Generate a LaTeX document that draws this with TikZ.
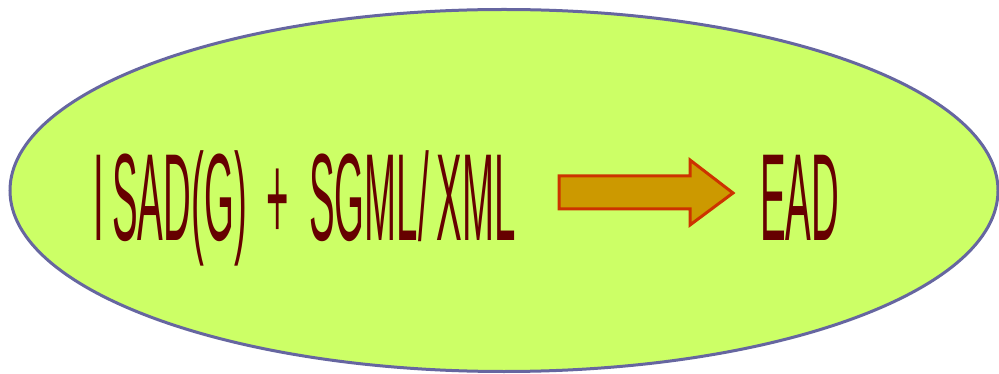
\documentclass[tikz,border=0pt]{standalone}
\usepackage{fontspec}
\setmainfont{Liberation Sans}
\usepackage{graphicx}
\definecolor{blobfill}{HTML}{CCFF66}
\definecolor{blobline}{HTML}{6666A0}
\definecolor{wordred}{HTML}{660000}
\definecolor{arrowfill}{HTML}{CC9900}
\definecolor{arrowline}{HTML}{CC3300}
% tall, horizontally squeezed lettering
\newcommand{\squeezed}[1]{\scalebox{0.31}[1]{\fontsize{124}{130}\selectfont #1}}
\begin{document}
\begin{tikzpicture}[x=1pt,y=-1pt,
  blob/.style={fill=blobfill, draw=blobline, line width=3pt},
  blockarrow/.style={fill=arrowfill, draw=arrowline, line width=3pt, line join=miter},
  word/.style={inner sep=0pt, anchor=base west, text=wordred}]
\useasboundingbox (0,0) rectangle (999,374);
% background ellipse
\draw[blob] (504,190.5) ellipse [x radius=494, y radius=181];
% source standards
\node[word] (src) at (93,241)
  {\squeezed{I\kern0.22em SAD(G)\hspace{0.52em}+\hspace{0.52em}SGML/\kern0.2em XML}};
% result
\node[word] (dst) at (760,241) {\squeezed{EAD}};
% block arrow between them
\draw[blockarrow] (559,176) -- (690,176) -- (690,160) -- (733,193)
  -- (690,225) -- (690,209) -- (559,209) -- cycle;
\end{tikzpicture}
\end{document}
